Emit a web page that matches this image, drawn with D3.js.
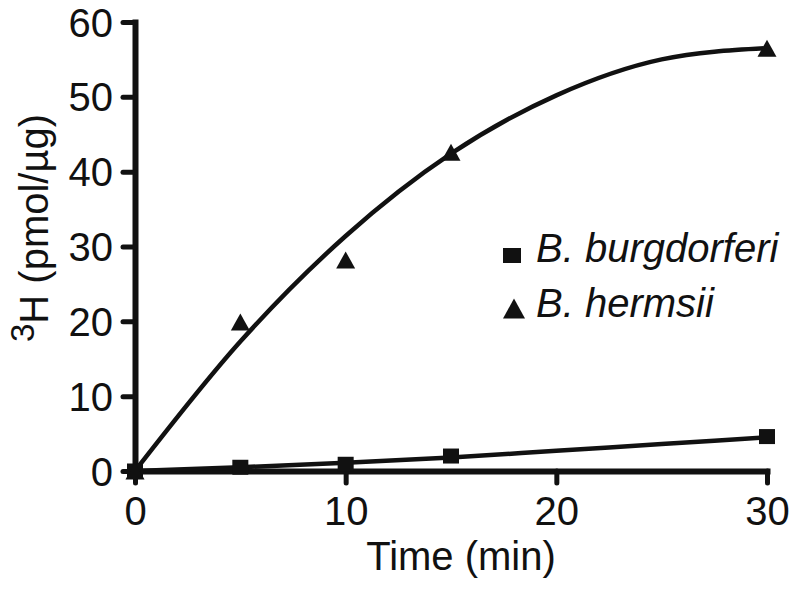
<!doctype html>
<html lang="en">
  <head>
    <meta charset="UTF-8">
    <title>3H uptake</title>
    <style>
      body {
        margin: 0;
        background: #fff;
      }
      text {
        font-family: "Liberation Sans", Arial, Helvetica, sans-serif;
        fill: #111;
      }
      .axis path,
      .axis line {
        stroke: #111;
        fill: none;
      }
      .fit {
        fill: none;
        stroke: #111;
        stroke-width: 4.5px;
      }
      .legend text {
        font-style: italic;
      }
    </style>
  </head>
  <body>
    <svg width="800" height="589"></svg>
    <script src="https://d3js.org/d3.v7.min.js"></script>
    <script>

      // measured points
      var times = [0, 5, 10, 15, 30];
      var burgdorferi = [0, 0.5, 0.9, 2.0, 4.6];
      var hermsii = [0, 19.9, 28.2, 42.6, 56.5];

      // fitted curves
      var fitTimes = [0, 5, 10, 15, 20, 25, 30];
      var burgdorferiFit = [0, 0.5, 1.1, 1.8, 2.7, 3.6, 4.5];
      var hermsiiFit = [0, 17.3, 31.4, 42.4, 50.2, 55.0, 56.5];

      var xTicks = [0, 10, 20, 30];
      var yTicks = [0, 10, 20, 30, 40, 50, 60];
      var seriesNames = ["B. burgdorferi", "B. hermsii"];

      var svg = d3.select("svg"),
              fontSize = 40;

      var x = d3.scaleLinear()
              .domain([0, 30])
              .range([135, 767]);

      var y = d3.scaleLinear()
              .domain([0, 60])
              .range([471, 22]);

      // axes
      var xAxis = svg.append("g")
              .attr("class", "axis")
              .attr("transform", "translate(0," + y(0) + ")")
              .call(d3.axisBottom(x).tickValues(xTicks).tickSize(12).tickSizeOuter(0).tickPadding(14));

      var yAxis = svg.append("g")
              .attr("class", "axis")
              .attr("transform", "translate(" + x(0) + ",0)")
              .call(d3.axisLeft(y).tickValues(yTicks).tickSize(12).tickSizeOuter(0).tickPadding(10));

      svg.selectAll(".axis .domain")
              .style("stroke-width", 6)
              .style("stroke-linecap", "square");
      svg.selectAll(".axis .tick line")
              .style("stroke-width", 5)
              .style("stroke-linecap", "round");
      svg.selectAll(".axis .tick text")
              .style("font-size", fontSize + "px")
              .style("font-family", "'Liberation Sans', Arial, sans-serif")
              .attr("fill", "#111");
      xAxis.selectAll(".tick text").attr("dy", "0.71em");
      yAxis.selectAll(".tick text").attr("dy", "0.35em");

      // axis titles
      svg.append("text")
              .attr("x", 461)
              .attr("y", 570)
              .attr("text-anchor", "middle")
              .style("font-size", fontSize + "px")
              .text("Time (min)");

      var yTitle = svg.append("text")
              .attr("transform", "translate(48,228) rotate(-90)")
              .attr("text-anchor", "middle")
              .style("font-size", fontSize + "px");
      yTitle.append("tspan")
              .attr("baseline-shift", "14")
              .style("font-size", "33px")
              .text("3");
      yTitle.append("tspan")
              .text("H (pmol/\u00b5g)");

      // fitted lines
      var line = d3.line()
              .x(function (d) { return x(d[0]); })
              .y(function (d) { return y(d[1]); })
              .curve(d3.curveMonotoneX);

      svg.append("path")
              .attr("class", "fit")
              .attr("d", line(d3.zip(fitTimes, hermsiiFit)));
      svg.append("path")
              .attr("class", "fit")
              .attr("d", line(d3.zip(fitTimes, burgdorferiFit)));

      function trianglePath(cx, cy, w, h) {
        return "M" + cx + "," + (cy - h / 2) +
                "L" + (cx + w / 2) + "," + (cy + h / 2) +
                "L" + (cx - w / 2) + "," + (cy + h / 2) + "Z";
      }

      // points
      svg.selectAll(".sq")
              .data(d3.zip(times, burgdorferi))
              .enter().append("rect")
              .attr("class", "sq")
              .attr("x", function (d) { return x(d[0]) - 8; })
              .attr("y", function (d) { return y(d[1]) - 7.5; })
              .attr("width", 16)
              .attr("height", 15)
              .attr("fill", "#111");

      svg.selectAll(".tri")
              .data(d3.zip(times, hermsii))
              .enter().append("path")
              .attr("class", "tri")
              .attr("d", function (d) { return trianglePath(x(d[0]), y(d[1]), 19, 17); })
              .attr("fill", "#111");

      // legend
      var legend = svg.append("g").attr("class", "legend");
      legend.append("rect")
              .attr("x", 503)
              .attr("y", 248)
              .attr("width", 18)
              .attr("height", 15)
              .attr("fill", "#111");
      legend.append("path")
              .attr("d", trianglePath(514, 308.5, 22, 20))
              .attr("fill", "#111");
      legend.selectAll("text")
              .data(seriesNames)
              .enter().append("text")
              .attr("x", 536)
              .attr("y", function (d, i) { return 262 + i * 55; })
              .style("font-size", fontSize + "px")
              .text(function (d) { return d; });

    </script>
  </body>
</html>
